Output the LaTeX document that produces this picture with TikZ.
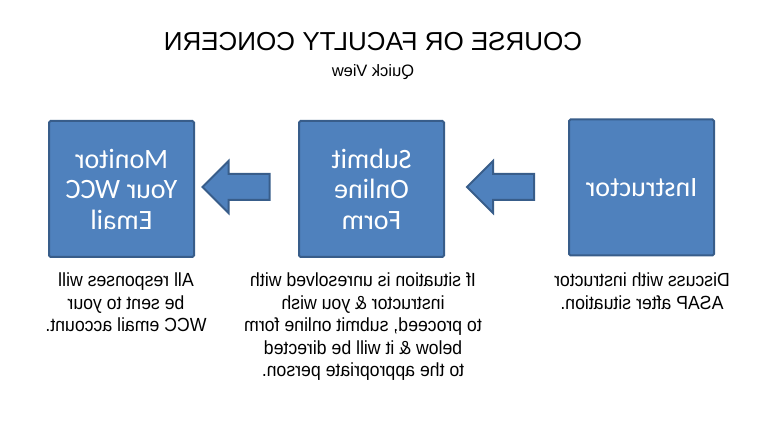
\documentclass[tikz,border=0pt]{standalone}
\usepackage{fontspec}
\setmainfont{Liberation Sans}
\newfontfamily\boxfont{Carlito}
\newfontfamily\notefont[FakeStretch=0.93]{Liberation Sans}
\usepackage{tikz}
\usetikzlibrary{arrows.meta,positioning,shapes,shapes.arrows}
\definecolor{wccblue}{HTML}{4F81BD}
\definecolor{wccedge}{HTML}{385D8A}

\begin{document}
\begin{tikzpicture}[x=1pt,y=-1pt,
    % every text in the picture is mirrored, as in the reference
    block_step/.style ={rectangle, draw=wccedge, line width=2pt, fill=wccblue,
      rounded corners=1.5pt, text=white, align=center, xscale=-1,
      minimum width=145pt, minimum height=136pt,
      font={\boxfont\fontsize{28pt}{30.5pt}\selectfont}},
    block_note/.style ={rectangle, draw=none, fill=none, align=center,
      xscale=-1, inner sep=0pt,
      font={\notefont\fontsize{19pt}{22.5pt}\selectfont}},
    block_title/.style ={rectangle, draw=none, inner sep=0pt, xscale=-1},
    paths_block/.style={single arrow, draw=wccedge, line width=2pt, fill=wccblue,
      rotate=180, minimum height=67pt, inner xsep=0pt, inner ysep=12pt,
      single arrow head extend=13pt, single arrow tip angle=90}]
    \useasboundingbox (0,0) rectangle (763,438);
    % heading
    \node[block_title, font={\fontsize{26pt}{30pt}\selectfont}] (t1) at (373,42) {COURSE OR FACULTY CONCERN};
    \node[block_title, font={\fontsize{16.5pt}{18pt}\selectfont}] (t2) at (373,72) {Quick View};
    % the three steps
    \node[block_step] (b1) at (641.5,187.5) {Instructor};
    \node[block_step] (b2) at (371.5,189) {Submit\\Online\\Form};
    \node[block_step] (b3) at (121.5,189) {Monitor\\Your WCC\\Email};
    % block arrows between the steps
    \node[paths_block] (a1) at (507,187) {};
    \node[paths_block] (a2) at (242.5,187) {};
    % notes under the steps
    \node[block_note, anchor=north] (n1) at (642,273) {Discuss with instructor\\ASAP after situation.};
    \node[block_note, anchor=north] (n2) at (363,273) {If situation is unresolved with\\instructor \& you wish\\to proceed, submit online form\\below \& it will be directed\\to the appropriate person.};
    \node[block_note, anchor=north] (n3) at (126,273) {All responses will\\be sent to your\\WCC email account.};
  \end{tikzpicture}
\end{document}
